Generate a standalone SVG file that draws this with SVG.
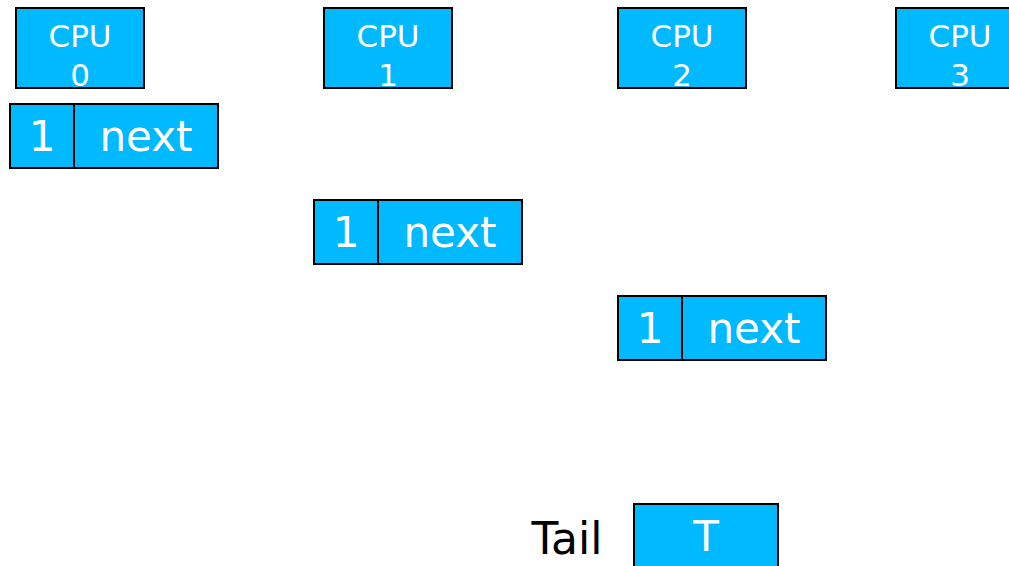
<svg xmlns="http://www.w3.org/2000/svg" width="1009" height="566" viewBox="0 0 1009 566">
<style>
.box{fill:#00B9FF;stroke:#000;stroke-width:2}
.t{font-family:"DejaVu Sans",sans-serif;text-anchor:middle}
.w{fill:#fff}
.cpu{font-size:31px}
.big{font-size:42px}
</style>
<rect width="1009" height="566" fill="#fff"/>
<g id="cpu0"><rect class="box" x="16" y="8" width="128" height="80"/><text class="t w cpu" x="80" y="47">CPU</text><text class="t w cpu" x="80" y="86">0</text></g>
<g id="cpu1"><rect class="box" x="324" y="8" width="128" height="80"/><text class="t w cpu" x="388" y="47">CPU</text><text class="t w cpu" x="388" y="86">1</text></g>
<g id="cpu2"><rect class="box" x="618" y="8" width="128" height="80"/><text class="t w cpu" x="682" y="47">CPU</text><text class="t w cpu" x="682" y="86">2</text></g>
<g id="cpu3"><rect class="box" x="896" y="8" width="128" height="80"/><text class="t w cpu" x="960" y="47">CPU</text><text class="t w cpu" x="960" y="86">3</text></g>
<g id="node0"><rect class="box" x="10" y="104" width="64" height="64"/><rect class="box" x="74" y="104" width="144" height="64"/><text class="t w big" x="42" y="151">1</text><text class="t w big" x="146" y="151">next</text></g>
<g id="node1"><rect class="box" x="314" y="200" width="64" height="64"/><rect class="box" x="378" y="200" width="144" height="64"/><text class="t w big" x="346" y="247">1</text><text class="t w big" x="450" y="247">next</text></g>
<g id="node2"><rect class="box" x="618" y="296" width="64" height="64"/><rect class="box" x="682" y="296" width="144" height="64"/><text class="t w big" x="650" y="343">1</text><text class="t w big" x="754" y="343">next</text></g>
<g id="tail"><text class="t" x="567" y="554" fill="#000" font-size="44">Tail</text><rect class="box" x="634" y="504" width="144" height="70"/><text class="t w big" x="706" y="551">T</text></g>
<g id="connectors"></g>
</svg>
